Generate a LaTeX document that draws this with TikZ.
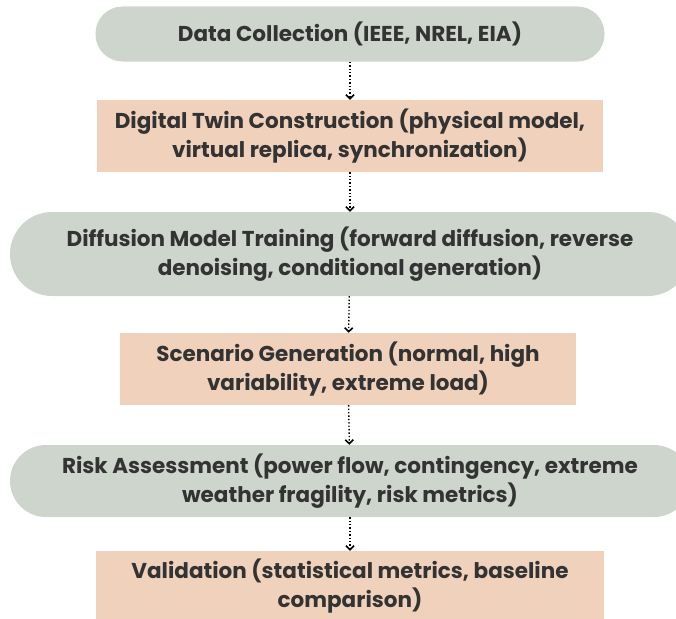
\documentclass[tikz,border=0pt]{standalone}
\usepackage{fontspec}
\setmainfont{Poppins}
\usetikzlibrary{arrows.meta}
\definecolor{sage}{HTML}{CDD5CC}
\definecolor{peach}{HTML}{F0D2BC}
\definecolor{ink}{HTML}{333333}

\begin{document}
\begin{tikzpicture}[x=1pt,y=1pt,
    pill/.style={fill=sage, rounded corners=#1, align=center, inner sep=0pt,
      font=\bfseries\fontsize{21.5}{28.5}\selectfont, text=ink},
    plate/.style={fill=peach, align=center, inner sep=0pt,
      font=\bfseries\fontsize{21.5}{28.5}\selectfont, text=ink},
    flow/.style={dotted, line width=1.4pt, -{Straight Barb[length=4pt,width=8pt,line width=1.6pt]}}]
  \useasboundingbox (0,0) rectangle (676,-618);
  \node [pill=27pt, minimum width=509pt, minimum height=55pt] (collect) at (350,-34)
    {Data Collection (IEEE, NREL, EIA)};
  \node [plate, minimum width=506pt, minimum height=72pt] (twin) at (350,-136)
    {Digital Twin Construction (physical model,\\ virtual replica, synchronization)};
  \node [pill=42pt, minimum width=680pt, minimum height=84pt] (train) at (350,-254)
    {Diffusion Model Training (forward diffusion, reverse\\ denoising, conditional generation)};
  \node [plate, minimum width=456pt, minimum height=72pt] (scen) at (348,-369)
    {Scenario Generation (normal, high\\ variability, extreme load)};
  \node [pill=36pt, minimum width=680pt, minimum height=72pt] (risk) at (350,-481)
    {Risk Assessment (power flow, contingency, extreme\\ weather fragility, risk metrics)};
  \node [plate, minimum width=508pt, minimum height=70pt] (valid) at (350,-586)
    {Validation (statistical metrics, baseline\\ comparison)};
  \draw [flow] (collect) -- (twin);
  \draw [flow] (twin) -- (train);
  \draw [flow] (train) -- (scen);
  \draw [flow] (scen) -- (risk);
  \draw [flow] (risk) -- (valid);
\end{tikzpicture}
\end{document}
